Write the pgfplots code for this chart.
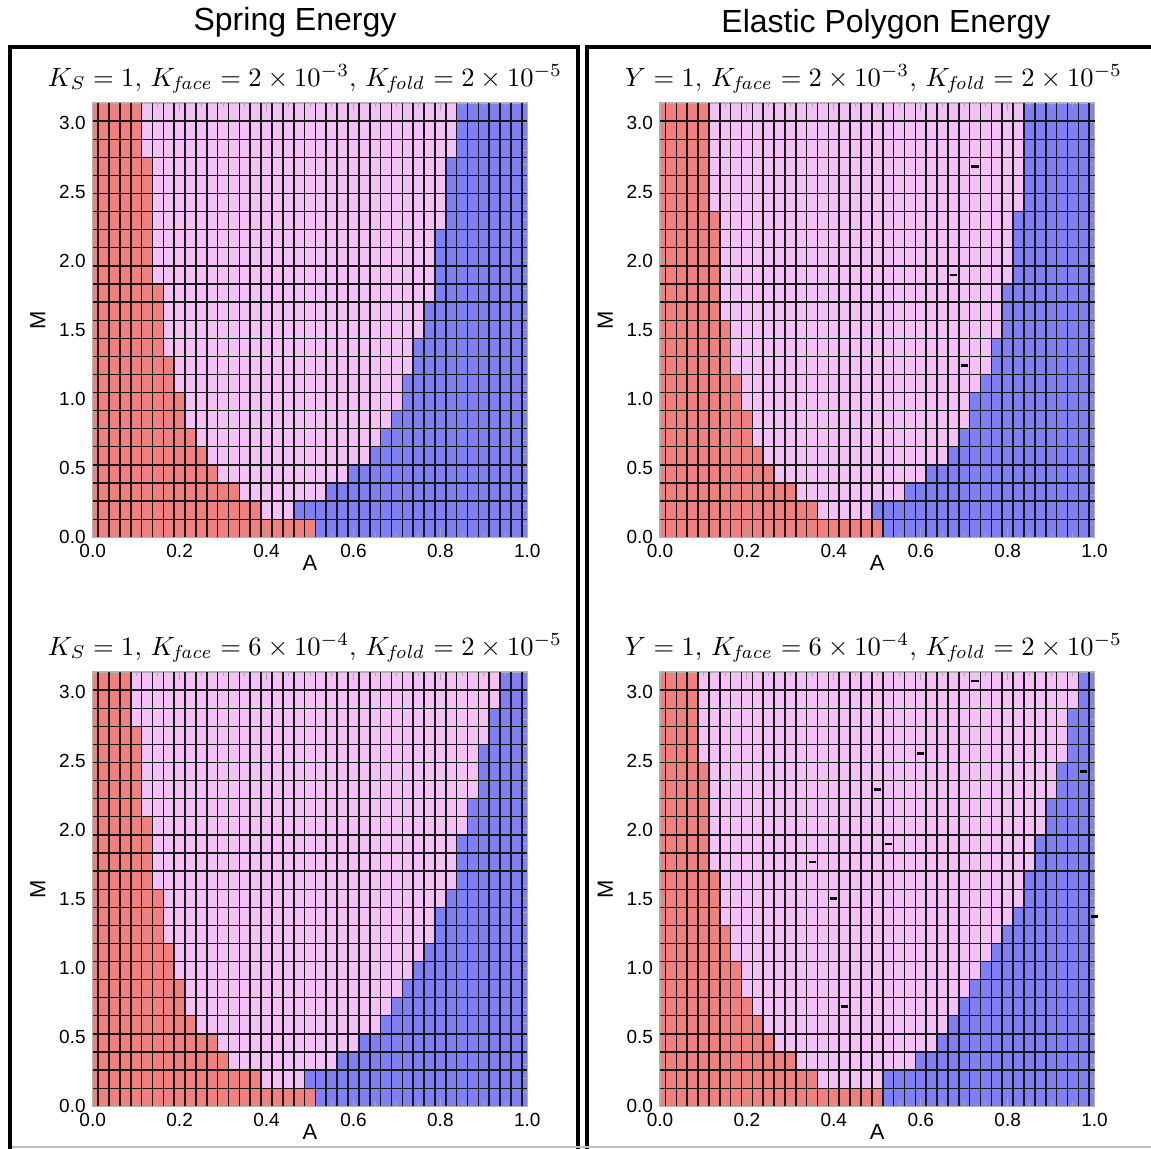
\documentclass[border=0pt]{standalone}
\usepackage[no-math]{fontspec}
\setmainfont{Liberation Sans}
\usepackage{graphicx}
\usepackage{pgfplots}
\usepackage{pgfplotstable}
\pgfplotsset{compat=1.18}

\definecolor{redph}{RGB}{240,128,128}
\definecolor{pinkph}{RGB}{244,193,247}
\definecolor{blueph}{RGB}{128,128,244}

% per row of M: A where red ends, A where blue starts
\pgfplotstableread{
M red blue
0.06545 0.5125 0.5125
0.19635 0.3875 0.4625
0.32725 0.3375 0.5375
0.45815 0.2875 0.5875
0.58905 0.2625 0.6375
0.71995 0.2375 0.6625
0.85085 0.2125 0.6875
0.98175 0.2125 0.7125
1.11265 0.1875 0.7125
1.24355 0.1875 0.7375
1.37445 0.1625 0.7375
1.50535 0.1625 0.7625
1.63625 0.1625 0.7625
1.76715 0.1625 0.7875
1.89805 0.1375 0.7875
2.02895 0.1375 0.7875
2.15984 0.1375 0.7875
2.29074 0.1375 0.8125
2.42164 0.1375 0.8125
2.55254 0.1375 0.8125
2.68344 0.1375 0.8125
2.81434 0.1125 0.8375
2.94524 0.1125 0.8375
3.07614 0.1125 0.8375
}\tabTL

\pgfplotstableread{
M red blue
0.06545 0.5125 0.5125
0.19635 0.3625 0.4875
0.32725 0.3125 0.5625
0.45815 0.2625 0.6125
0.58905 0.2375 0.6625
0.71995 0.2125 0.6875
0.85085 0.2125 0.7125
0.98175 0.1875 0.7125
1.11265 0.1875 0.7375
1.24355 0.1625 0.7625
1.37445 0.1625 0.7625
1.50535 0.1625 0.7875
1.63625 0.1375 0.7875
1.76715 0.1375 0.7875
1.89805 0.1375 0.8125
2.02895 0.1375 0.8125
2.15984 0.1375 0.8125
2.29074 0.1375 0.8125
2.42164 0.1125 0.8375
2.55254 0.1125 0.8375
2.68344 0.1125 0.8375
2.81434 0.1125 0.8375
2.94524 0.1125 0.8375
3.07614 0.1125 0.8375
}\tabTR

\pgfplotstableread{
M red blue
0.06545 0.5125 0.5125
0.19635 0.3875 0.4875
0.32725 0.3125 0.5625
0.45815 0.2875 0.6125
0.58905 0.2375 0.6625
0.71995 0.2125 0.6875
0.85085 0.2125 0.7125
0.98175 0.1875 0.7375
1.11265 0.1875 0.7625
1.24355 0.1625 0.7875
1.37445 0.1625 0.7875
1.50535 0.1625 0.8125
1.63625 0.1375 0.8375
1.76715 0.1375 0.8375
1.89805 0.1375 0.8375
2.02895 0.1375 0.8625
2.15984 0.1125 0.8625
2.29074 0.1125 0.8875
2.42164 0.1125 0.8875
2.55254 0.1125 0.8875
2.68344 0.1125 0.9125
2.81434 0.0875 0.9125
2.94524 0.0875 0.9375
3.07614 0.0875 0.9375
}\tabBL

\pgfplotstableread{
M red blue
0.06545 0.5125 0.5125
0.19635 0.3625 0.5125
0.32725 0.3125 0.5875
0.45815 0.2625 0.6375
0.58905 0.2375 0.6625
0.71995 0.2125 0.6875
0.85085 0.1875 0.7125
0.98175 0.1875 0.7375
1.11265 0.1625 0.7625
1.24355 0.1625 0.7875
1.37445 0.1375 0.8125
1.50535 0.1375 0.8375
1.63625 0.1375 0.8375
1.76715 0.1125 0.8625
1.89805 0.1125 0.8625
2.02895 0.1125 0.8875
2.15984 0.1125 0.8875
2.29074 0.1125 0.9125
2.42164 0.1125 0.9125
2.55254 0.0875 0.9375
2.68344 0.0875 0.9375
2.81434 0.0875 0.9375
2.94524 0.0875 0.9625
3.07614 0.0875 0.9625
}\tabBR

\pgfplotsset{
  phase/.style={
    width=217.3pt, height=217.15pt, scale only axis,
    xmin=0, xmax=1, ymin=0, ymax=3.14159,
    axis background/.style={fill=blueph},
    xtick={0,0.2,...,1}, ytick={0,0.5,...,3},
    minor x tick num=3, minor y tick num=4,
    tick align=inside,
    major tick length=4pt, minor tick length=2pt,
    tick style={gray!70, line width=0.5pt},
    axis line style={gray!60, line width=0.6pt},
    /pgf/number format/fixed, /pgf/number format/fixed zerofill,
    /pgf/number format/precision=1,
    /pgf/number format/assume math mode=true,
    ticklabel style={font=\fontsize{9.5}{11}\selectfont},
    extra x ticks={0.0125,0.0375,...,0.9875},
    extra y ticks={0.1309,0.2618,...,3.011},
    extra x tick labels={}, extra y tick labels={},
    extra x tick style={grid=major, major grid style={black!90, line width=0.8pt}, major tick length=0pt},
    extra y tick style={grid=major, major grid style={black!90, line width=0.65pt}, major tick length=0pt},
    axis on top,
    xlabel={A}, ylabel={M},
    label style={font=\fontsize{11}{13}\selectfont},
    xlabel style={yshift=8pt},
  },
  cells/.style={xbar, bar width=0.1309, bar shift=0pt, draw=none, fill=#1},
  dashes/.style={only marks, mark=-, mark size=1.8pt, mark options={black, line width=1.3pt}},
}

\begin{document}
\begin{tikzpicture}
\path[use as bounding box] (0pt,0pt) rectangle (575.5pt,-574pt);

\node[anchor=base, font=\fontsize{16}{19}\selectfont] at (147.5pt,-15pt) {Spring Energy};
\node[anchor=base, font=\fontsize{16}{19}\selectfont] at (443pt,-16pt) {Elastic Polygon Energy};

\draw[line width=2pt] (5pt,-600pt) -- (5pt,-23.5pt) -- (289pt,-23.5pt) -- (289pt,-600pt);
\draw[line width=2pt] (293.5pt,-600pt) -- (293.5pt,-23.5pt) -- (600pt,-23.5pt);
\draw[gray!50, line width=0.8pt] (6pt,-573.4pt) -- (575.5pt,-573.4pt);

\node[anchor=base] at (152.5pt,-43pt) {\resizebox{257pt}{!}{$K_S=1,\,K_{\mathit{face}}=2\times10^{-3},\,K_{\mathit{fold}}=2\times10^{-5}$}};
\node[anchor=base] at (436.75pt,-43pt) {\resizebox{248.5pt}{!}{$Y=1,\,K_{\mathit{face}}=2\times10^{-3},\,K_{\mathit{fold}}=2\times10^{-5}$}};
\node[anchor=base] at (152.5pt,-327.5pt) {\resizebox{257pt}{!}{$K_S=1,\,K_{\mathit{face}}=6\times10^{-4},\,K_{\mathit{fold}}=2\times10^{-5}$}};
\node[anchor=base] at (436.75pt,-327.5pt) {\resizebox{248.5pt}{!}{$Y=1,\,K_{\mathit{face}}=6\times10^{-4},\,K_{\mathit{fold}}=2\times10^{-5}$}};

% Spring energy, K_face = 2e-3
\begin{axis}[phase, at={(46.35pt,-268.65pt)}, anchor=south west]
\addplot[cells=pinkph] table[x=blue, y=M] {\tabTL};
\addplot[cells=redph] table[x=red, y=M] {\tabTL};
\end{axis}

% Elastic polygon energy, K_face = 2e-3
\begin{axis}[phase, at={(330pt,-268.65pt)}, anchor=south west]
\addplot[cells=pinkph] table[x=blue, y=M] {\tabTR};
\addplot[cells=redph] table[x=red, y=M] {\tabTR};
\addplot[dashes] coordinates {(0.725,2.68344) (0.675,1.89805) (0.70,1.24355)};
\end{axis}

% Spring energy, K_face = 6e-4
\begin{axis}[phase, at={(46.35pt,-553.15pt)}, anchor=south west]
\addplot[cells=pinkph] table[x=blue, y=M] {\tabBL};
\addplot[cells=redph] table[x=red, y=M] {\tabBL};
\end{axis}

% Elastic polygon energy, K_face = 6e-4
\begin{axis}[phase, at={(330pt,-553.15pt)}, anchor=south west]
\addplot[cells=pinkph] table[x=blue, y=M] {\tabBR};
\addplot[cells=redph] table[x=red, y=M] {\tabBR};
\addplot[dashes] coordinates {(0.725,3.07614) (0.6,2.55254) (0.975,2.42164) (0.5,2.29074)
  (0.525,1.89805) (0.35,1.76715) (0.4,1.50535) (1.0,1.37445) (0.425,0.71995)};
\end{axis}
\end{tikzpicture}
\end{document}
